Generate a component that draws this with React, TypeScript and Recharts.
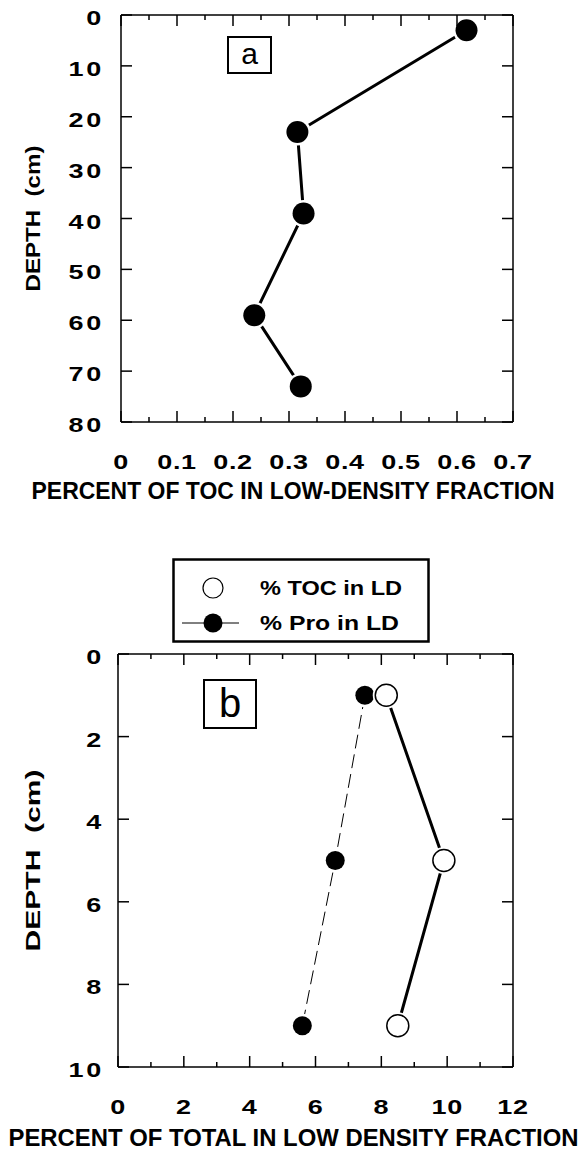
import React from "react";
import { ScatterChart, Scatter, XAxis, YAxis, Label, Legend, ReferenceLine } from "recharts";

// panel a: % of TOC in the low-density fraction vs depth
const depthA = [3, 23, 39, 59, 73];
const tocA = [0.617, 0.315, 0.326, 0.238, 0.321];
const xMajorA = [0, 0.1, 0.2, 0.3, 0.4, 0.5, 0.6, 0.7];
const xMinorA = [0.05, 0.15, 0.25, 0.35, 0.45, 0.55, 0.65];
const yMajorA = [0, 10, 20, 30, 40, 50, 60, 70, 80];

// panel b: % TOC and % protein in LD fraction
const depthB = [1, 5, 9];
const tocB = [8.15, 9.9, 8.5];
const proB = [7.5, 6.6, 5.6];
const xMajorB = [0, 2, 4, 6, 8, 10, 12];
const xMinorB = [1, 3, 5, 7, 9, 11];
const yMajorB = [0, 2, 4, 6, 8, 10];

const FONT = "'Liberation Sans', Arial, Helvetica, sans-serif";
const AXIS = { stroke: "#000", strokeWidth: 1.5 };
const STRETCH = 1.35; // the scanned figure's lettering is wide

const TOP_A = 15;
const TOP_B = 114;

type Side = "bottom" | "left" | "right";

// inward ticks; bottom ticks are mirrored onto the plot's top edge (topY)
function inwardTick(side: Side, majors: number[], gap = 0, topY?: number) {
  return (p: any) => {
    const v = Number(p.payload.value);
    const major = majors.some((m) => Math.abs(m - v) < 1e-6);
    const len = major ? 11 : 5;
    const { x, y } = p;
    let x2 = x;
    let y2 = y;
    if (side === "bottom") y2 = y - len;
    if (side === "left") x2 = x + len;
    if (side === "right") x2 = x - len;
    let label = null;
    if (major && side === "bottom") {
      label = (
        <text transform={`translate(${x},${y + gap}) scale(${STRETCH},1)`} textAnchor="middle" dy="0.35em" fontFamily={FONT} fontWeight="bold" fontSize={20} letterSpacing={0.5} fill="#000">
          {String(v)}
        </text>
      );
    }
    if (major && side === "left") {
      label = (
        <text transform={`translate(${x - gap},${y + 3}) scale(${STRETCH},1)`} textAnchor="end" dy="0.35em" fontFamily={FONT} fontWeight="bold" fontSize={20} letterSpacing={2} fill="#000">
          {String(v)}
        </text>
      );
    }
    return (
      <g>
        <line x1={x} y1={y} x2={x2} y2={y2} stroke="#000" strokeWidth={1.5} />
        {topY !== undefined && <line x1={x} y1={topY} x2={x} y2={topY + len} stroke="#000" strokeWidth={1.5} />}
        {label}
      </g>
    );
  };
}

const filledDot = (r: number) => (p: any) => (
  <g>
    <circle cx={p.cx} cy={p.cy} r={r + 2.5} fill="#fff" />
    <circle cx={p.cx} cy={p.cy} r={r} fill="#000" />
  </g>
);

const openDot = (r: number) => (p: any) => (
  <g>
    <circle cx={p.cx} cy={p.cy} r={r + 2.5} fill="#fff" />
    <circle cx={p.cx} cy={p.cy} r={r} fill="#fff" stroke="#000" strokeWidth={1.5} />
  </g>
);

const noDot = () => <g />;

function xTitle(text: string, dx: number, dy: number, length: number) {
  return (props: any) => {
    const vb = props.viewBox;
    return (
      <text x={vb.x + vb.width / 2 + dx} y={vb.y + dy} textAnchor="middle" dy="0.35em" fontFamily={FONT} fontWeight="bold" fontSize={23} textLength={length} lengthAdjust="spacingAndGlyphs" fill="#000">
        {text}
      </text>
    );
  };
}

function yTitle(cx: number, length: number) {
  return (props: any) => {
    const vb = props.viewBox;
    const cy = vb.y + vb.height / 2;
    return (
      <text x={cx} y={cy} transform={`rotate(-90 ${cx} ${cy})`} textAnchor="middle" dy="0.35em" fontFamily={FONT} fontWeight="bold" fontSize={21} textLength={length} lengthAdjust="spacingAndGlyphs" fill="#000">
        DEPTH{"\u00a0\u00a0"}(cm)
      </text>
    );
  };
}

const boxStyle = (left: number, top: number, w: number, h: number, size: number): React.CSSProperties => ({
  position: "absolute",
  left,
  top,
  width: w,
  height: h,
  boxSizing: "border-box",
  border: "2px solid #000",
  background: "#fff",
  fontFamily: FONT,
  fontSize: size,
  lineHeight: `${h - 6}px`,
  textAlign: "center",
});

function LegendBox() {
  return (
    <svg width={258} height={85} style={{ display: "block" }}>
      <rect x={1.5} y={1.5} width={255} height={82} fill="#fff" stroke="#000" strokeWidth={2.5} />
      <circle cx={41} cy={30} r={10} fill="#fff" stroke="#000" strokeWidth={1.2} />
      <text x={88} y={30} dy="0.35em" fontFamily={FONT} fontWeight="bold" fontSize={20} textLength={142} lengthAdjust="spacingAndGlyphs">
        % TOC in LD
      </text>
      <line x1={10} x2={67} y1={65} y2={65} stroke="#000" strokeWidth={1} />
      <circle cx={41} cy={65} r={9.5} fill="#000" />
      <text x={88} y={65} dy="0.35em" fontFamily={FONT} fontWeight="bold" fontSize={20} textLength={139} lengthAdjust="spacingAndGlyphs">
        % Pro in LD
      </text>
    </svg>
  );
}

export default function App() {
  const dataA = depthA.map((d, i) => ({ x: tocA[i], y: d }));
  const dataToc = depthB.map((d, i) => ({ x: tocB[i], y: d }));
  const dataPro = depthB.map((d, i) => ({ x: proB[i], y: d }));

  return (
    <div style={{ position: "absolute", left: 0, top: 0, width: 580, height: 1153, background: "#fff" }}>
      <div style={{ position: "absolute", left: 0, top: 0 }}>
        <ScatterChart width={580} height={520} margin={{ top: TOP_A, right: 66, bottom: 0, left: 0 }}>
          <XAxis type="number" dataKey="x" domain={[0, 0.7]} ticks={[...xMajorA, ...xMinorA]} interval={0} height={98} axisLine={AXIS} tickLine={false} tickSize={0} tickMargin={0} tick={inwardTick("bottom", xMajorA, 40, TOP_A)} allowDataOverflow>
            <Label content={xTitle("PERCENT OF TOC IN LOW-DENSITY FRACTION", -24, 69, 523)} />
          </XAxis>
          <YAxis type="number" dataKey="y" domain={[0, 80]} reversed ticks={yMajorA} interval={0} width={121} axisLine={AXIS} tickLine={false} tickSize={0} tickMargin={0} tick={inwardTick("left", yMajorA, 17)} allowDataOverflow>
            <Label content={yTitle(33, 146)} />
          </YAxis>
          <YAxis yAxisId="right" orientation="right" type="number" dataKey="y" domain={[0, 80]} reversed ticks={yMajorA} interval={0} width={1} axisLine={AXIS} tickLine={false} tickSize={0} tickMargin={0} tick={inwardTick("right", yMajorA)} allowDataOverflow />
          <ReferenceLine y={0} stroke="#000" strokeWidth={1.5} />
          {/* invisible twin series so the right frame axis is bound and drawn */}
          <Scatter data={dataA} yAxisId="right" shape={noDot} legendType="none" isAnimationActive={false} />
          <Scatter data={dataA} line={{ stroke: "#000", strokeWidth: 3 }} shape={filledDot(11)} isAnimationActive={false} />
        </ScatterChart>
      </div>
      <div style={boxStyle(227, 36, 45, 38, 30)}>a</div>

      <div style={{ position: "absolute", left: 0, top: 540 }}>
        <ScatterChart width={580} height={613} margin={{ top: TOP_B, right: 66, bottom: 0, left: 0 }}>
          <XAxis type="number" dataKey="x" domain={[0, 12]} ticks={[...xMajorB, ...xMinorB]} interval={0} height={86} axisLine={AXIS} tickLine={false} tickSize={0} tickMargin={0} tick={inwardTick("bottom", xMajorB, 40, TOP_B)} allowDataOverflow>
            <Label content={xTitle("PERCENT OF TOTAL IN LOW DENSITY FRACTION", -22, 71, 570)} />
          </XAxis>
          <YAxis type="number" dataKey="y" domain={[0, 10]} reversed ticks={yMajorB} interval={0} width={118} axisLine={AXIS} tickLine={false} tickSize={0} tickMargin={0} tick={inwardTick("left", yMajorB, 14)} allowDataOverflow>
            <Label content={yTitle(33, 182)} />
          </YAxis>
          <YAxis yAxisId="right" orientation="right" type="number" dataKey="y" domain={[0, 10]} reversed ticks={yMajorB} interval={0} width={1} axisLine={AXIS} tickLine={false} tickSize={0} tickMargin={0} tick={inwardTick("right", yMajorB)} allowDataOverflow />
          <ReferenceLine y={0} stroke="#000" strokeWidth={1.5} />
          <Legend layout="horizontal" verticalAlign="middle" align="center" content={() => <LegendBox />} wrapperStyle={{ left: 172, top: 18, width: 258, height: 85 }} />
          <Scatter data={dataToc} yAxisId="right" shape={noDot} legendType="none" isAnimationActive={false} />
          <Scatter name="% Pro in LD" data={dataPro} line={{ stroke: "#000", strokeWidth: 1, strokeDasharray: "14 6" }} shape={filledDot(9.5)} isAnimationActive={false} />
          <Scatter name="% TOC in LD" data={dataToc} line={{ stroke: "#000", strokeWidth: 3 }} shape={openDot(11)} isAnimationActive={false} />
        </ScatterChart>
      </div>
      <div style={boxStyle(203, 679, 54, 50, 40)}>b</div>
    </div>
  );
}
